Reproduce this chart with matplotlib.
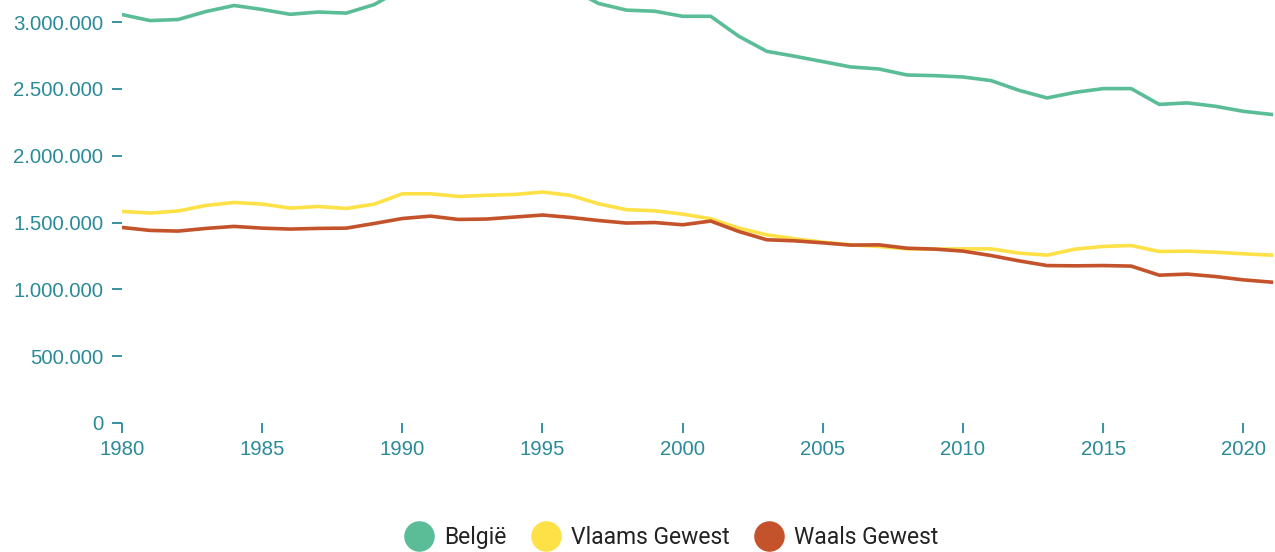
import matplotlib
matplotlib.use("Agg")
import matplotlib.pyplot as plt
from matplotlib.lines import Line2D
from matplotlib.ticker import FuncFormatter

plt.rcParams['font.family'] = ['Liberation Sans', 'DejaVu Sans']

jaren = list(range(1980, 2022))

# België (1990-1996 valt boven de rand van de grafiek)
belgie = [3.056, 3.011, 3.019, 3.079, 3.124, 3.094, 3.058, 3.075, 3.067, 3.131,
          3.25, 3.27, 3.23, 3.24, 3.26, 3.29, 3.25, 3.139, 3.089, 3.081,
          3.043, 3.043, 2.894, 2.781, 2.744, 2.704, 2.664, 2.649, 2.604, 2.599,
          2.589, 2.562, 2.489, 2.432, 2.474, 2.502, 2.502, 2.384, 2.395, 2.370,
          2.332, 2.309]
vlaams = [1.583, 1.571, 1.586, 1.628, 1.650, 1.638, 1.608, 1.620, 1.605, 1.638,
          1.715, 1.715, 1.695, 1.704, 1.710, 1.728, 1.703, 1.640, 1.596, 1.588,
          1.563, 1.528, 1.458, 1.408, 1.378, 1.353, 1.333, 1.321, 1.303, 1.301,
          1.303, 1.303, 1.271, 1.256, 1.301, 1.321, 1.328, 1.283, 1.286, 1.278,
          1.266, 1.256]
waals = [1.463, 1.441, 1.436, 1.456, 1.471, 1.458, 1.451, 1.456, 1.458, 1.493,
         1.530, 1.548, 1.523, 1.526, 1.541, 1.556, 1.538, 1.515, 1.496, 1.500,
         1.483, 1.511, 1.433, 1.371, 1.363, 1.348, 1.331, 1.333, 1.308, 1.301,
         1.286, 1.253, 1.213, 1.178, 1.176, 1.178, 1.174, 1.106, 1.114, 1.096,
         1.071, 1.054]

reeksen = ['België', 'Vlaams Gewest', 'Waals Gewest']
kleuren = ['#5bbd98', '#fde146', '#c4532c']
tekst_kleur = '#2a8a98'

fig = plt.figure(figsize=(12.75, 5.52), dpi=100)
ax = fig.add_axes([122 / 1275, 129 / 552, 1 - 122 / 1275, 1 - 129 / 552])

for waarden, kleur in zip([belgie, vlaams, waals], kleuren):
    ax.plot(jaren, [w * 1e6 for w in waarden], color=kleur, lw=2.6,
            solid_joinstyle='round')

ax.set_xlim(1980, 2021.13)
ax.set_ylim(0, 3.165e6)
ax.set_xticks(range(1980, 2021, 5))
ax.set_yticks([i * 5e5 for i in range(7)])
ax.yaxis.set_major_formatter(FuncFormatter(lambda v, p: f'{int(v):,}'.replace(',', '.')))

for s in ax.spines.values():
    s.set_visible(False)
ax.tick_params(axis='both', colors=tekst_kleur, labelsize=14.7, length=7.5, width=1.3)
ax.tick_params(axis='y', pad=6)
ax.tick_params(axis='x', pad=5)

handles = [Line2D([], [], ls='none', marker='o', ms=21, color=k) for k in kleuren]
leg = fig.legend(handles, reeksen, loc='center', bbox_to_anchor=(0.527, 0.027), ncol=3,
                 frameon=False, handletextpad=0.5, columnspacing=1.1,
                 handlelength=1.2, prop={'family': 'Roboto', 'size': 16.5})
for t in leg.get_texts():
    t.set_color('#222222')

fig.savefig('out.png', dpi=100)
